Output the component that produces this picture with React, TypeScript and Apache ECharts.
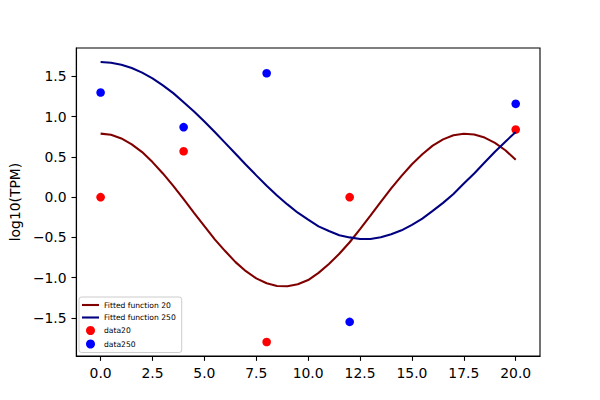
import React, { useEffect, useRef } from "react";
import * as echarts from "echarts";

// Fitted curves (x from 0 to 20, step 0.5)
const fitX = [0, 0.5, 1, 1.5, 2, 2.5, 3, 3.5, 4, 4.5, 5, 5.5, 6, 6.5, 7, 7.5, 8, 8.5, 9, 9.5, 10, 10.5, 11, 11.5, 12, 12.5, 13, 13.5, 14, 14.5, 15, 15.5, 16, 16.5, 17, 17.5, 18, 18.5, 19, 19.5, 20];
const fit20 = [0.79, 0.775, 0.73, 0.657, 0.56, 0.436, 0.295, 0.14, -0.025, -0.194, -0.36, -0.524, -0.67, -0.807, -0.92, -1.009, -1.07, -1.104, -1.107, -1.082, -1.03, -0.941, -0.83, -0.704, -0.56, -0.398, -0.23, -0.058, 0.11, 0.265, 0.41, 0.534, 0.64, 0.718, 0.77, 0.789, 0.78, 0.741, 0.674, 0.583, 0.465];
const fit250 = [1.68, 1.671, 1.647, 1.605, 1.548, 1.477, 1.39, 1.293, 1.18, 1.065, 0.94, 0.809, 0.675, 0.539, 0.404, 0.271, 0.143, 0.021, -0.09, -0.193, -0.28, -0.363, -0.42, -0.473, -0.5, -0.519, -0.52, -0.498, -0.46, -0.412, -0.345, -0.267, -0.17, -0.071, 0.04, 0.169, 0.295, 0.43, 0.565, 0.69, 0.81];

// Observed data
const dataX = [0, 4, 8, 12, 20];
const data20 = [0, 0.57, -1.8, 0, 0.84];
const data250 = [1.3, 0.87, 1.54, -1.55, 1.16];

// Tick labels
const xTicks = [0, 2.5, 5, 7.5, 10, 12.5, 15, 17.5, 20];
const yTicks = [-1.5, -1.0, -0.5, 0, 0.5, 1.0, 1.5];

const FONT = "DejaVu Sans";
const fmt = (v: number) => v.toFixed(1).replace("-", "\u2212");
const LINE_ICON = "path://M0,0L17,0L17,2.1L0,2.1Z";

export default function App() {
  const ref = useRef<HTMLDivElement>(null);
  useEffect(() => {
    if (!ref.current) return;
    const chart = echarts.init(ref.current, undefined, { renderer: "svg" });
    const axisCommon = {
      axisLine: { show: true, onZero: false, lineStyle: { color: "#000", width: 1.1 } },
      splitLine: { show: false },
    };
    chart.setOption({
      animation: false,
      backgroundColor: "#fff",
      textStyle: { fontFamily: FONT },
      grid: {
        left: 75,
        top: 48,
        width: 465,
        height: 308,
        show: true,
        borderColor: "#000",
        borderWidth: 1.1,
        backgroundColor: "transparent",
      },
      legend: {
        orient: "vertical",
        left: 79,
        top: 297,
        itemWidth: 17,
        itemHeight: 9,
        itemGap: 4.5,
        padding: [4, 6, 4, 3],
        borderColor: "#cccccc",
        borderWidth: 1,
        borderRadius: 2.5,
        backgroundColor: "rgba(255,255,255,0.8)",
        textStyle: { fontFamily: FONT, fontSize: 7.6, color: "#000" },
        data: [
          { name: "Fitted function 20", icon: LINE_ICON },
          { name: "Fitted function 250", icon: LINE_ICON },
          { name: "data20", icon: "circle" },
          { name: "data250", icon: "circle" },
        ],
      },
      xAxis: {
        type: "value",
        min: -1.17,
        max: 21.17,
        ...axisCommon,
        axisTick: {
          show: true,
          customValues: xTicks,
          length: 4.86,
          lineStyle: { color: "#000", width: 1.1 },
        },
        axisLabel: {
          customValues: xTicks,
          formatter: (v: number) => fmt(v),
          margin: 9.7,
          color: "#000",
          fontFamily: FONT,
          fontSize: 13.9,
        },
      },
      yAxis: {
        type: "value",
        min: -1.974,
        max: 1.854,
        ...axisCommon,
        name: "log10(TPM)",
        nameLocation: "middle",
        nameGap: 48,
        nameTextStyle: { fontFamily: FONT, fontSize: 13.9, color: "#000" },
        axisTick: {
          show: true,
          customValues: yTicks,
          length: 4.86,
          lineStyle: { color: "#000", width: 1.1 },
        },
        axisLabel: {
          customValues: yTicks,
          formatter: (v: number) => fmt(v),
          margin: 9.7,
          color: "#000",
          fontFamily: FONT,
          fontSize: 13.9,
        },
      },
      series: [
        {
          name: "Fitted function 20",
          type: "line",
          data: fitX.map((x, i) => [x, fit20[i]]),
          symbol: "none",
          showSymbol: false,
          lineStyle: { color: "#800000", width: 2.08 },
          itemStyle: { color: "#800000" },
          z: 3,
        },
        {
          name: "Fitted function 250",
          type: "line",
          data: fitX.map((x, i) => [x, fit250[i]]),
          symbol: "none",
          showSymbol: false,
          lineStyle: { color: "#000080", width: 2.08 },
          itemStyle: { color: "#000080" },
          z: 3,
        },
        {
          name: "data20",
          type: "scatter",
          data: dataX.map((x, i) => [x, data20[i]]),
          symbolSize: 8.6,
          itemStyle: { color: "#ff0000", opacity: 1 },
          z: 2,
        },
        {
          name: "data250",
          type: "scatter",
          data: dataX.map((x, i) => [x, data250[i]]),
          symbolSize: 8.6,
          itemStyle: { color: "#0000ff", opacity: 1 },
          z: 2,
        },
      ],
    });
    return () => chart.dispose();
  }, []);
  return (
    <div
      ref={ref}
      style={{ position: "fixed", left: 0, top: 0, width: 600, height: 400, background: "#fff" }}
    />
  );
}
